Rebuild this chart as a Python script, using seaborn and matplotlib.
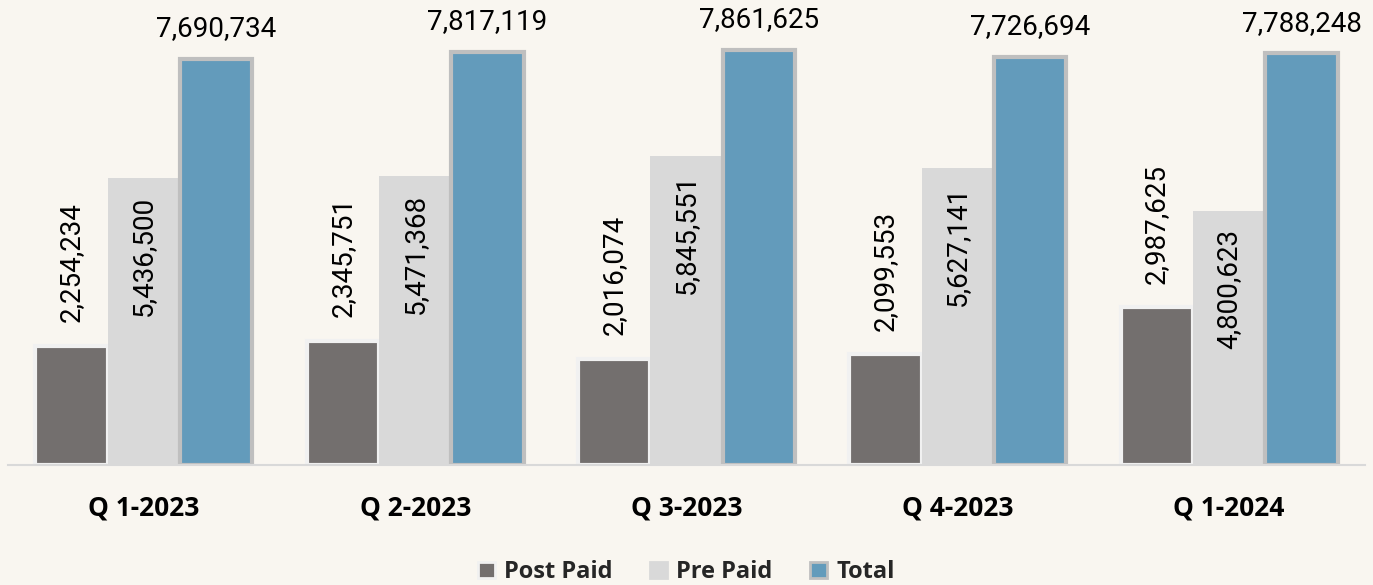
import pandas as pd
import matplotlib.pyplot as plt
import seaborn as sns
from matplotlib.patches import Patch

# Data
quarters = ["Q 1-2023", "Q 2-2023", "Q 3-2023", "Q 4-2023", "Q 1-2024"]
post_paid = [2254234, 2345751, 2016074, 2099553, 2987625]
pre_paid = [5436500, 5471368, 5845551, 5627141, 4800623]
total = [7690734, 7817119, 7861625, 7726694, 7788248]
series = ["Post Paid", "Pre Paid", "Total"]

colors = {"Post Paid": "#736f6e", "Pre Paid": "#d9d9d9", "Total": "#639bbb"}
edges = {"Post Paid": "#f1f1f1", "Pre Paid": "#d9d9d9", "Total": "#bfbfbf"}
BG = "#f9f6f0"

df = pd.DataFrame({
    "Quarter": quarters * 3,
    "Type": ["Post Paid"] * 5 + ["Pre Paid"] * 5 + ["Total"] * 5,
    "Value": post_paid + pre_paid + total,
})

sns.set_style("white")
plt.rcParams["font.family"] = ["Roboto", "DejaVu Sans"]

fig = plt.figure(figsize=(13.73, 5.85), dpi=100, facecolor=BG)
ax = fig.add_axes([0.006, 0.205, 0.988, 0.795])
ax.set_facecolor(BG)

sns.barplot(data=df, x="Quarter", y="Value", hue="Type", order=quarters,
            hue_order=series, palette=colors, width=0.8, saturation=1,
            legend=False, ax=ax)

for cont, name in zip(ax.containers, series):
    for bar in cont:
        bar.set_edgecolor(edges[name])
        bar.set_linewidth(3 if name != "Pre Paid" else 0)

# value labels
vals = {"Post Paid": post_paid, "Pre Paid": pre_paid, "Total": total}
for cont, name in zip(ax.containers, series):
    for bar, v in zip(cont, vals[name]):
        cx = bar.get_x() + bar.get_width() / 2
        h = bar.get_height()
        txt = f"{v:,}"
        if name == "Post Paid":
            ax.annotate(txt, (cx, h), xytext=(0, 17), textcoords="offset points",
                        rotation=90, ha="center", va="bottom", fontsize=20, color="#000000")
        elif name == "Pre Paid":
            ax.annotate(txt, (cx, h), xytext=(0, -13), textcoords="offset points",
                        rotation=90, ha="center", va="top", fontsize=20, color="#000000")
        else:
            ax.annotate(txt, (cx, h), xytext=(0, 12), textcoords="offset points",
                        ha="center", va="bottom", fontsize=20, color="#000000")

ax.set_ylim(0, 8.8e6)
ax.set_xlim(-0.5, 4.5)
ax.set_xlabel("")
ax.set_ylabel("")
ax.set_yticks([])
for s in ["top", "left", "right"]:
    ax.spines[s].set_visible(False)
ax.spines["bottom"].set_color("#d9d9d9")
ax.spines["bottom"].set_linewidth(1.5)
ax.tick_params(axis="x", length=0, pad=21)
for lbl in ax.get_xticklabels():
    lbl.set_fontfamily(["Open Sans", "DejaVu Sans"])
    lbl.set_fontweight("bold")
    lbl.set_fontsize(19)
    lbl.set_color("#000000")

handles = [Patch(facecolor=colors[n], edgecolor=edges[n], linewidth=2) for n in series]
fig.legend(handles, series, loc="center", bbox_to_anchor=(0.5, 0.022), ncol=3,
           frameon=False, handlelength=0.7, handleheight=0.7, handletextpad=0.4,
           columnspacing=1.6,
           prop={"family": ["Open Sans", "DejaVu Sans"], "weight": "bold", "size": 17})

fig.savefig("out.png", dpi=100, facecolor=BG)
